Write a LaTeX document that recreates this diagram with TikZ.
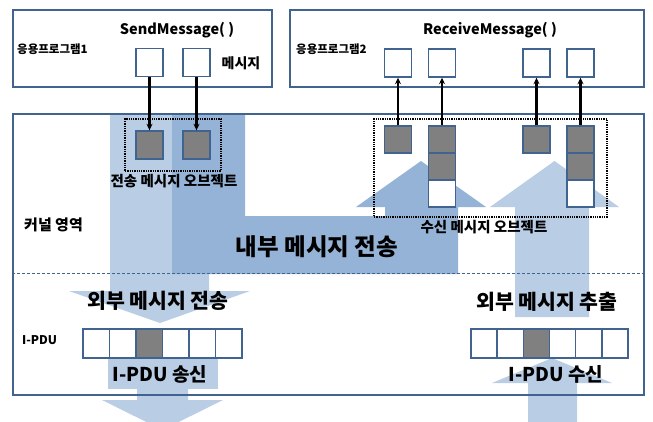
\documentclass[tikz,border=0pt]{standalone}
\usepackage{fontspec}
\setmainfont{Noto Sans CJK KR}
\usetikzlibrary{arrows.meta}
\definecolor{lightflow}{HTML}{B9CDE5}
\definecolor{darkflow}{HTML}{95B3D7}
\definecolor{framecol}{HTML}{41638F}
\definecolor{cellgray}{HTML}{808080}
\tikzset{
  areabox/.style={draw=framecol, line width=1.6pt, inner sep=0pt},
  cell/.style={draw=framecol, line width=1.4pt, fill=white, inner sep=0pt,
               minimum width=27pt, minimum height=28pt},
  gcell/.style={cell, fill=cellgray},
  pcell/.style={draw=framecol, line width=1.4pt, fill=white, inner sep=0pt,
               minimum width=26.3pt, minimum height=29pt},
  dotbox/.style={draw=black, densely dotted, line width=1.3pt, inner sep=0pt},
  msgarrow/.style={line width=2.1pt, -{Stealth[length=6.5pt,width=6pt]}},
  lbl/.style={font=\bfseries, inner sep=0pt},
}
\newcommand\fsz[1]{\bfseries\fontsize{#1}{#1}\selectfont}
\begin{document}
\begin{tikzpicture}[x=1pt,y=-1pt]
\useasboundingbox (0,0) rectangle (653,421);
\clip (0,0) rectangle (653,421);

% application areas
\node[areabox, minimum width=259pt, minimum height=77pt] (app1) at (142.5,48.5) {};
\node[areabox, minimum width=354pt, minimum height=77pt] (app2) at (467,48.5) {};

% kernel area background
\node[areabox, draw=none, fill=white, minimum width=631pt, minimum height=281pt] (kernelbg) at (328.5,254.5) {};

% outgoing flow (light), top of kernel down to the I-PDU
\fill[lightflow] (110,114) -- (209,114) -- (209,291) -- (250,291) -- (160,323)
  -- (69,291) -- (110,291) -- cycle;
% transmitted I-PDU leaving the kernel
\fill[lightflow] (108,358) rectangle (218,389);
\fill[lightflow] (137,389) -- (188,389) -- (188,400) -- (223,400) -- (162.5,430)
  -- (102,400) -- (137,400) -- cycle;
% internal transfer (dark L-shaped arrow)
\fill[darkflow] (172,114) -- (245,114) -- (245,216) -- (385,216) -- (385,207)
  -- (356,207) -- (421,161) -- (486,207) -- (458,207) -- (458,274) -- (172,274) -- cycle;
% incoming flow up to the receive objects
\fill[lightflow] (515,317) -- (589,317) -- (589,207) -- (619,207) -- (554.5,161)
  -- (490,207) -- (515,207) -- cycle;
% received I-PDU entering the kernel
\fill[lightflow] (528,430) -- (528,383) -- (492,383) -- (552,358) -- (612,383)
  -- (577,383) -- (577,430) -- cycle;

% kernel frame and separator
\node[areabox, minimum width=631pt, minimum height=281pt] (kernel) at (328.5,254.5) {};
\draw[framecol, line width=0.9pt, dash pattern=on 3pt off 2pt] (kernel.west |- 0,273) -- (kernel.east |- 0,273);

% message slots of application 1
\node[cell] (s1) at (149.5,62.5) {};
\node[cell] (s2) at (196.5,62.5) {};
% message slots of application 2
\node[cell] (r1) at (398,63) {};
\node[cell] (r2) at (442,63) {};
\node[cell] (r3) at (536.5,63) {};
\node[cell] (r4) at (580.5,63) {};

% send message objects
\node[dotbox, minimum width=96pt, minimum height=52pt] (sendgrp) at (173,145) {};
\node[gcell] (o1) at (149.5,145) {};
\node[gcell] (o2) at (196.5,145) {};

% receive message objects
\node[dotbox, minimum width=233pt, minimum height=98pt] (recvgrp) at (490.5,168) {};
\node[gcell, minimum height=27pt] (q1) at (398,139.5) {};
\node[gcell, minimum height=27pt] (q2a) at (442,139.5) {};
\node[gcell, minimum height=27pt] (q2b) at (442,166.5) {};
\node[cell, minimum height=27pt] (q2c) at (442,193.5) {};
\node[gcell, minimum height=27pt] (q3) at (536.5,139.5) {};
\node[gcell, minimum height=27pt] (q4a) at (580.5,139.5) {};
\node[gcell, minimum height=27pt] (q4b) at (580.5,166.5) {};
\node[cell, minimum height=27pt] (q4c) at (580.5,193.5) {};

% I-PDU buffers
\foreach \i/\c in {0/white,1/white,2/cellgray,3/white,4/white,5/white}{
  \node[pcell, fill=\c] (tx\i) at (96.25+26.5*\i,343.5) {};
  \node[pcell, fill=\c, minimum width=26.2pt] (rx\i) at (484.1+26.17*\i,343.5) {};
}

% copies between application and kernel
\draw[msgarrow] (s1) -- (o1);
\draw[msgarrow] (s2) -- (o2);
\draw[msgarrow] (q1) -- (r1);
\draw[msgarrow] (q2a) -- (r2);
\draw[msgarrow] (q3) -- (r3);
\draw[msgarrow] (q4a) -- (r4);

% labels
\node[lbl, font=\fsz{14.5}] (tsend) at (177,30) {SendMessage( )};
\node[lbl, font=\fsz{14.5}] (trecv) at (490,30) {ReceiveMessage( )};
\node[lbl, anchor=west, font=\fsz{11.5}] (tapp1) at (17,49) {응용프로그램1};
\node[lbl, anchor=west, font=\fsz{11.5}] (tapp2) at (296,49) {응용프로그램2};
\node[lbl, font=\fsz{14}] (tmsg) at (241,63) {메시지};
\node[lbl, font=\fsz{14.5}] (tsobj) at (174,181) {전송 메시지 오브젝트};
\node[lbl, font=\fsz{14.5}] (trobj) at (484,227) {수신 메시지 오브젝트};
\node[lbl, anchor=west, font=\fsz{15}] (tkern) at (24,225) {커널 영역};
\node[lbl, font=\fsz{23.5}] (tint) at (317,247) {내부 메시지 전송};
\node[lbl, font=\fsz{20.5}] (text1) at (158,301) {외부 메시지 전송};
\node[lbl, font=\fsz{20.5}] (text2) at (547,302) {외부 메시지 추출};
\node[lbl, anchor=west, font=\fsz{12}] (tipdu) at (22,340) {I-PDU};
\node[lbl, font=\fsz{19}] (ttx) at (160,374) {I-PDU 송신};
\node[lbl, font=\fsz{19}] (trx) at (556,374) {I-PDU 수신};
\end{tikzpicture}
\end{document}
